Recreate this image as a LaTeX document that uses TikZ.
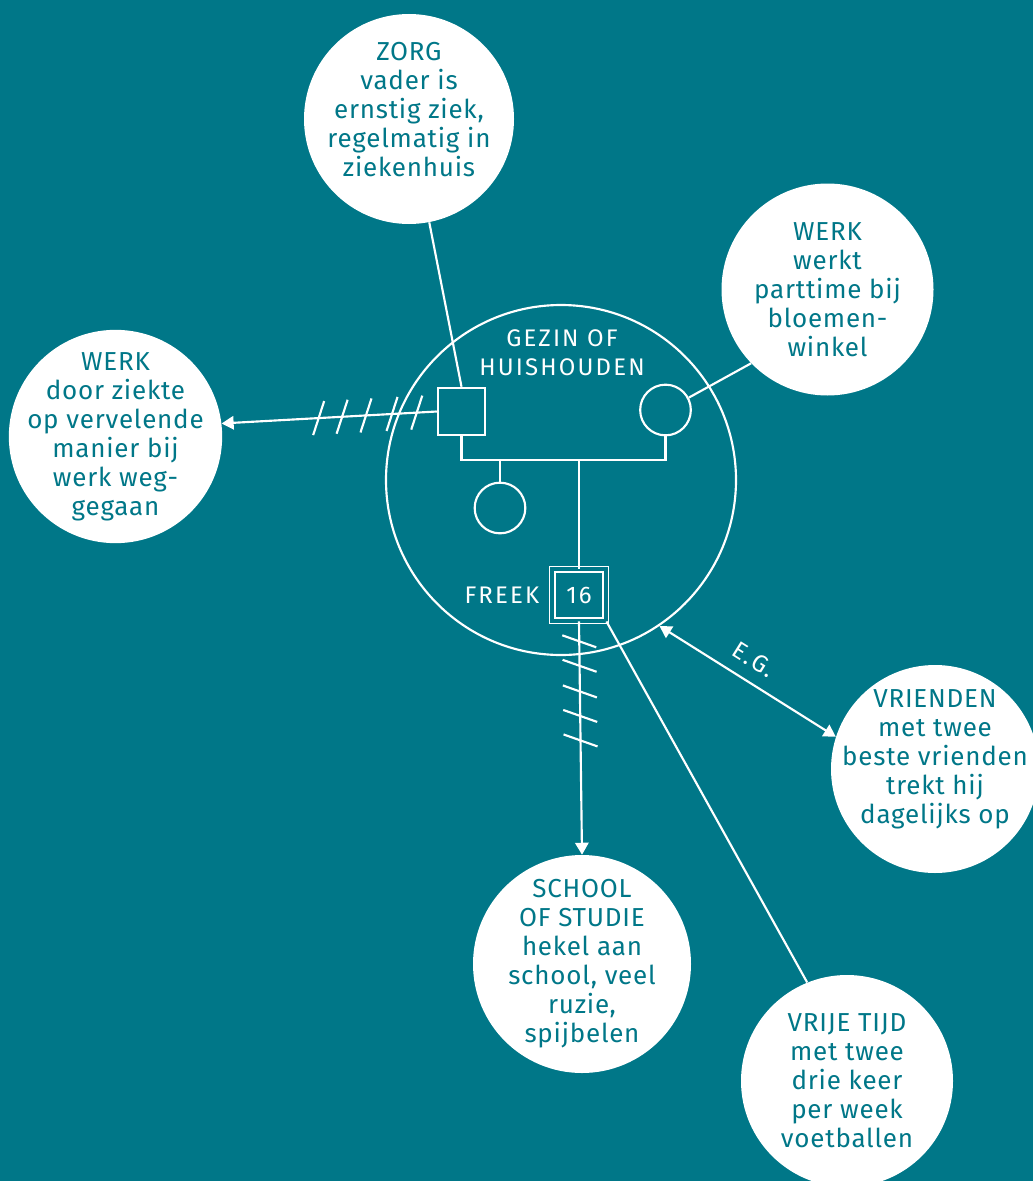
\documentclass[tikz,border=0pt]{standalone}
\usepackage{fontspec}
\setmainfont{Fira Sans}[LetterSpace=3,Ligatures=NoCommon]
\newfontfamily\spaced{Fira Sans}[LetterSpace=9,Ligatures=NoCommon]
\usetikzlibrary{arrows.meta,positioning,calc}
\definecolor{petrol}{RGB}{0,119,136}
\tikzset{
  bubble/.style={circle,fill=white,inner sep=0pt,minimum size=159pt},
  btext/.style={text=petrol,inner sep=0pt,align=center,font=\fontsize{19.5}{21.75}\selectfont},
  wlabel/.style={text=white,inner sep=0pt,align=center,font=\spaced\fontsize{18}{21.75}\selectfont},
  wline/.style={white,line width=1.6pt},
  famsq/.style={draw=white,line width=1.6pt,minimum size=35.5pt,inner sep=0pt},
  famcirc/.style={famsq,circle,minimum size=38pt},
  toarrow/.style={-{Triangle[length=9pt,width=10pt]}},
}

\begin{document}
\begin{tikzpicture}[x=0.75pt,y=-0.75pt]
  \useasboundingbox (0,0) rectangle (1033,1181);
  \fill[petrol] (0,0) rectangle (1033,1181);

  % household
  \node[draw=white,line width=1.6pt,circle,minimum size=262.5pt,inner sep=0pt] (gezin) at (561,480) {};
  \node[wlabel] (gezinlbl) at (562,353) {GEZIN OF\\HUISHOUDEN};
  \node[famsq] (father) at (461.5,411.5) {};
  \node[famcirc] (mother) at (665.5,410) {};
  \node[famcirc] (sister) at (500,508) {};
  \coordinate (bar) at (579,460);
  \node[draw=white,double=petrol,double distance=3pt,line width=1.2pt,minimum width=40pt,
    minimum height=38.5pt,inner sep=0pt,text=white,font=\spaced\fontsize{18}{21}\selectfont] (freek) at (579,595) {16};
  \node[wlabel,left=9pt of freek] (freeklbl) {FREEK};

  % life areas
  \node[bubble,minimum size=157.5pt] (zorg) at (409,119) {};
  \node[btext] at ($(zorg)+(0,-9)$) {ZORG\\vader is\\ernstig ziek,\\regelmatig in\\ziekenhuis};
  \node[bubble] (werkR) at (827.5,289.5) {};
  \node[btext] at (werkR) {WERK\\werkt\\parttime bij\\bloemen-\\winkel};
  \node[bubble,minimum size=160pt] (werkL) at (115.5,436.5) {};
  \node[btext] at (werkL) {WERK\\door ziekte\\op vervelende\\manier bij\\werk weg-\\gegaan};
  \node[bubble,minimum size=156pt] (vrienden) at (935,769) {};
  \node[btext] at ($(vrienden)+(0,-10)$) {VRIENDEN\\met twee\\beste vrienden\\trekt hij\\dagelijks op};
  \node[bubble,minimum size=163.5pt] (school) at (582,964) {};
  \node[btext] at (school) {SCHOOL\\OF STUDIE\\hekel aan\\school, veel\\ruzie,\\spijbelen};
  \node[bubble] (vrije) at (847,1081) {};
  \node[btext] at (vrije) {VRIJE TIJD\\met twee\\drie keer\\per week\\voetballen};

  % family lines
  \draw[wline] (father.south) |- (bar) -| (mother.south);
  \draw[wline] (sister.north) -- (sister.north |- bar);
  \draw[wline] (bar) -- (freek.north);

  % relations
  \draw[wline] (zorg) -- (father.north);
  \draw[wline] (mother.28) -- (werkR.224);
  \draw[wline,toarrow] (father.west) -- (werkL.7);
  \foreach \t in {0.093,0.208,0.329,0.44,0.549}
    \draw[wline] ($(father.west)!\t!(werkL.7)$) +(-5.5,17) -- +(5.5,-17);
  \draw[wline,toarrow] (freek.south) -- (school.north);
  \foreach \t in {0.085,0.19,0.3,0.405,0.51}
    \draw[wline] ($(freek.south)!\t!(school.north)$) +(-17,-6) -- +(17,6);
  \draw[wline] (freek.south east) -- (vrije.112);
  \draw[wline,{Triangle[length=9pt,width=10pt]}-{Triangle[length=9pt,width=10pt]}]
    (gezin.-56) -- node[wlabel,sloped,above=9pt,pos=0.47] {E.G.} (vrienden.162);
\end{tikzpicture}
\end{document}
